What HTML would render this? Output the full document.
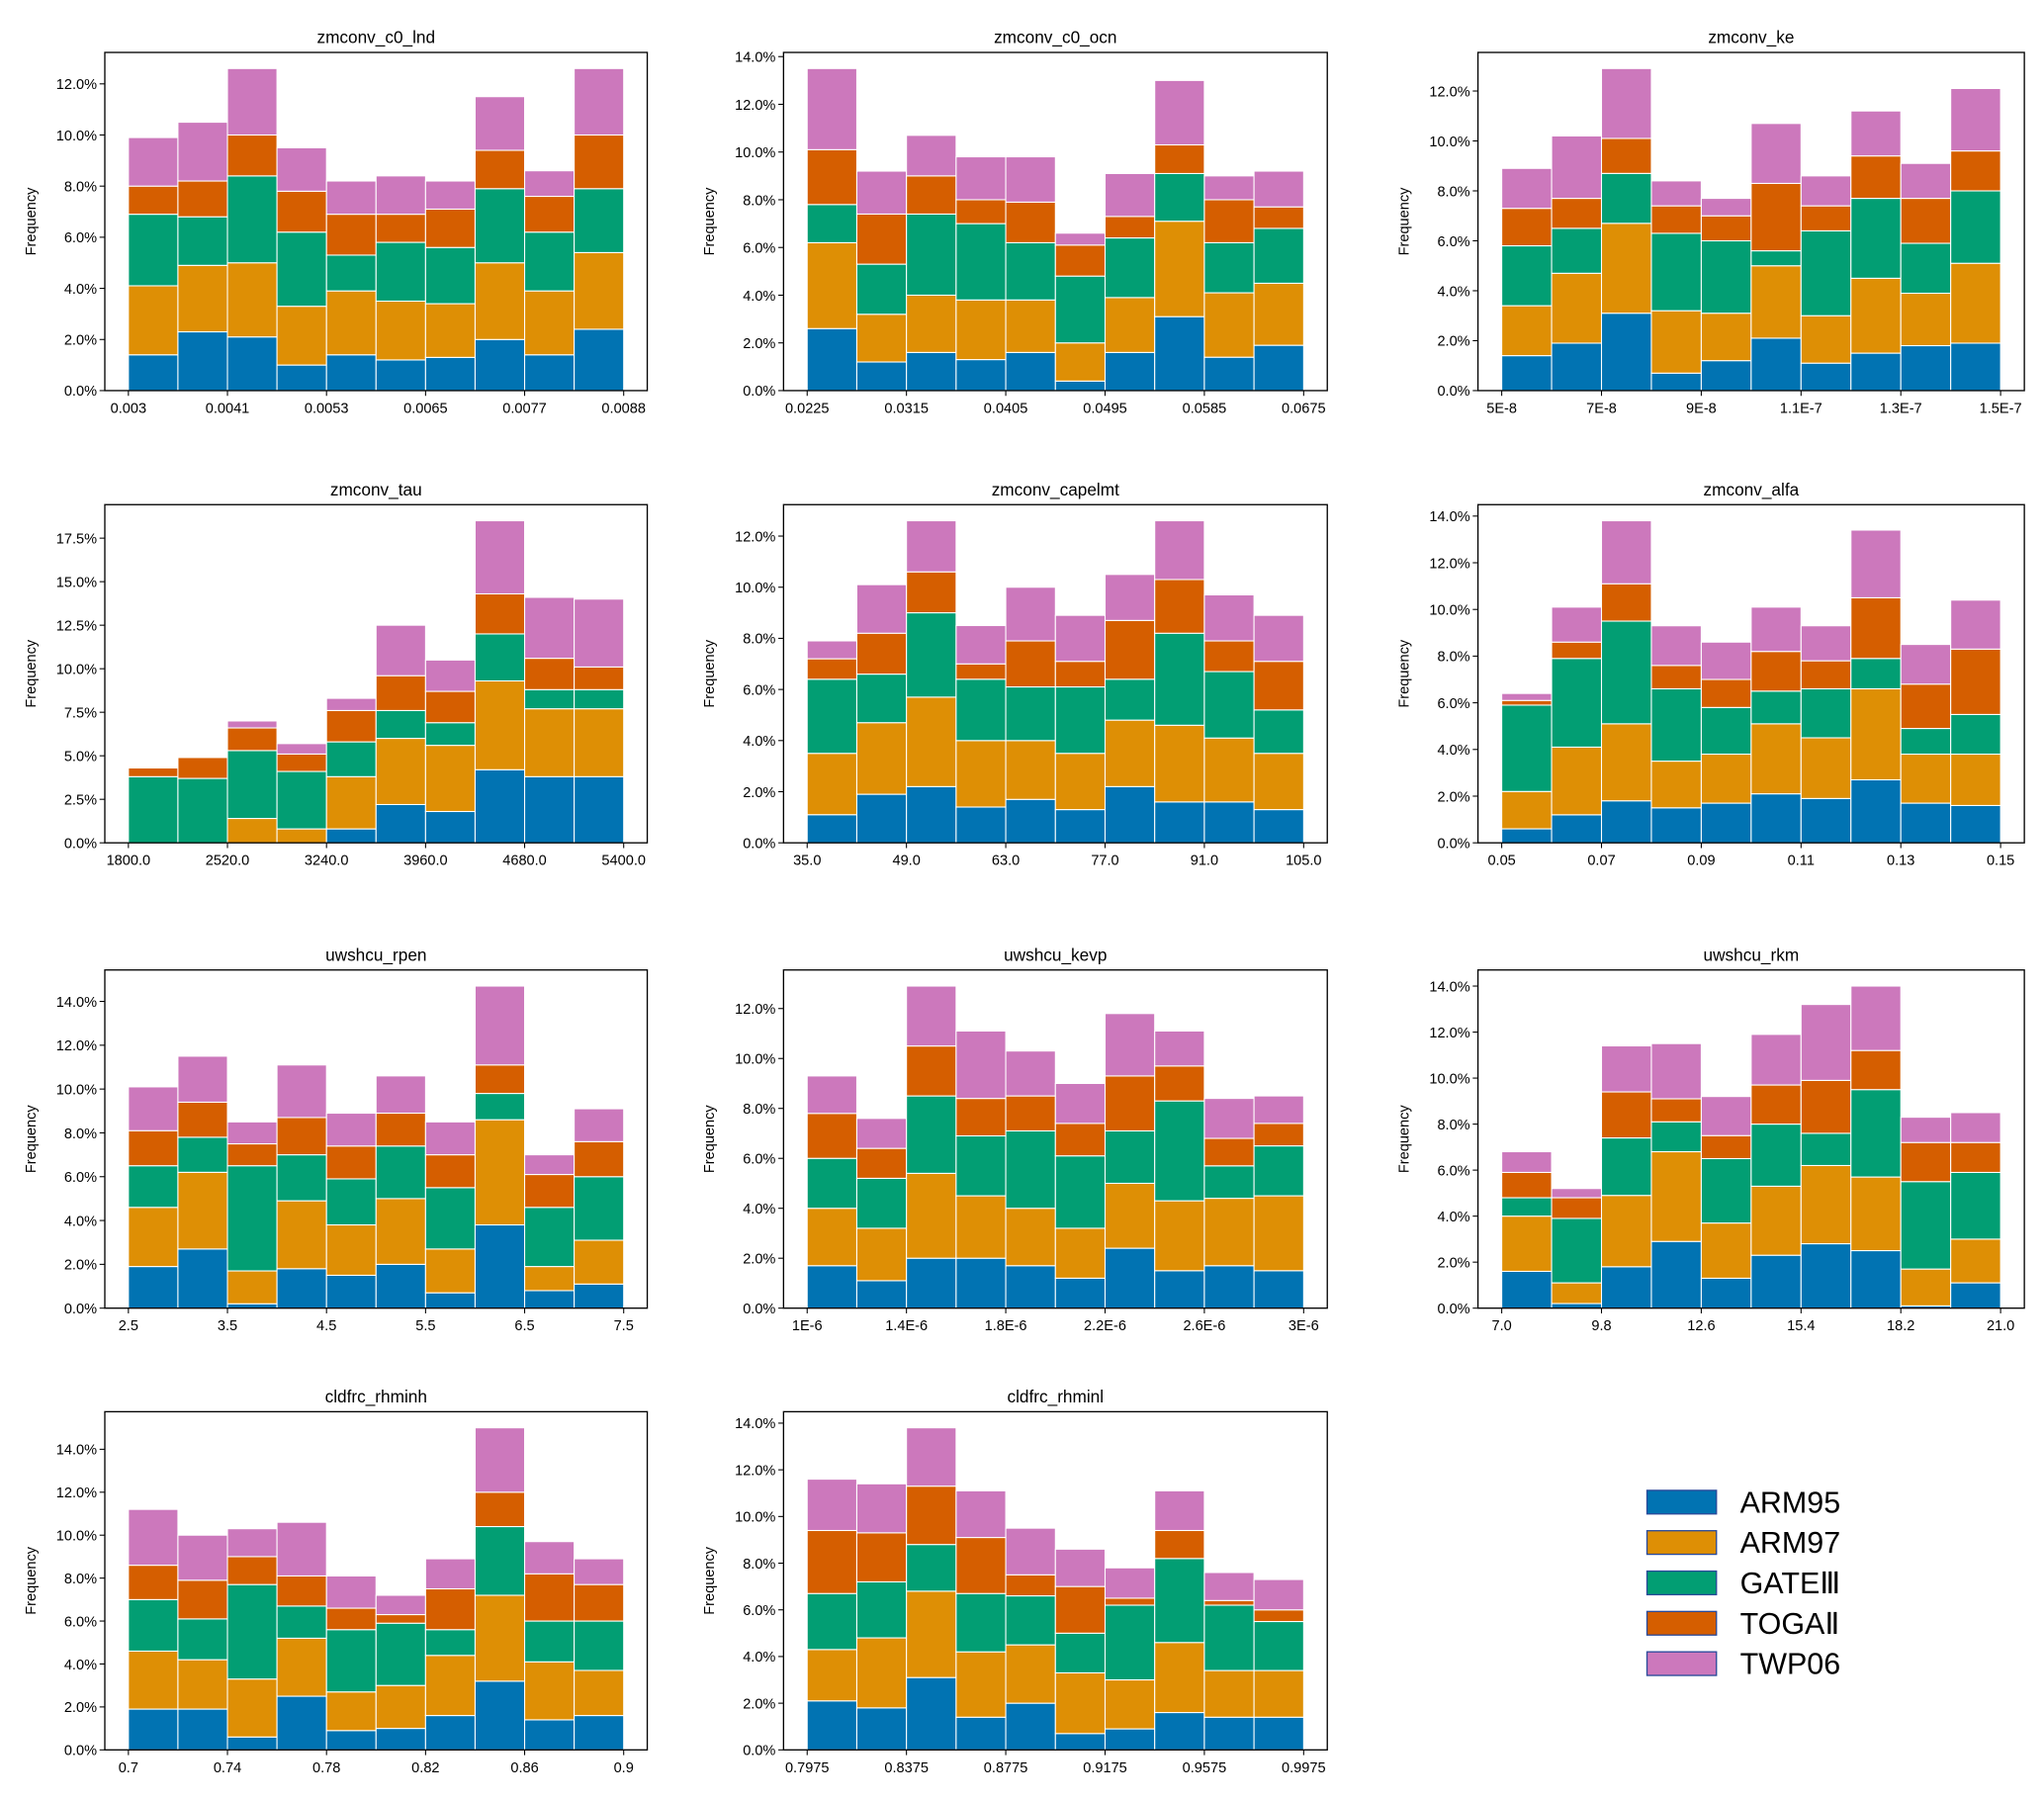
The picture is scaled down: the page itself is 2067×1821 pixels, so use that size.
<!DOCTYPE html>
<html><head><meta charset="utf-8">
<style>
html,body{margin:0;padding:0;background:#fff;}
svg{display:block;font-family:"Liberation Sans","DejaVu Sans",sans-serif;}
</style></head>
<body>
<svg id="fig" width="2067" height="1821" viewBox="0 0 1560 1374" preserveAspectRatio="none" xmlns="http://www.w3.org/2000/svg"></svg>
<script>
const seriesNames = ["ARM95","ARM97","GATEⅢ","TOGAⅡ","TWP06"];
const seriesColors = ["#0173b2","#de8f05","#029e73","#d55e00","#cc78bc"];
const panelTitles = ["zmconv_c0_lnd","zmconv_c0_ocn","zmconv_ke","zmconv_tau","zmconv_capelmt","zmconv_alfa","uwshcu_rpen","uwshcu_kevp","uwshcu_rkm","cldfrc_rhminh","cldfrc_rhminl"];
const xTickLabels = [
 ["0.003","0.0041","0.0053","0.0065","0.0077","0.0088"],
 ["0.0225","0.0315","0.0405","0.0495","0.0585","0.0675"],
 ["5E-8","7E-8","9E-8","1.1E-7","1.3E-7","1.5E-7"],
 ["1800.0","2520.0","3240.0","3960.0","4680.0","5400.0"],
 ["35.0","49.0","63.0","77.0","91.0","105.0"],
 ["0.05","0.07","0.09","0.11","0.13","0.15"],
 ["2.5","3.5","4.5","5.5","6.5","7.5"],
 ["1E-6","1.4E-6","1.8E-6","2.2E-6","2.6E-6","3E-6"],
 ["7.0","9.8","12.6","15.4","18.2","21.0"],
 ["0.7","0.74","0.78","0.82","0.86","0.9"],
 ["0.7975","0.8375","0.8775","0.9175","0.9575","0.9975"]
];
const yTickSteps = [2,2,2,2.5,2,2,2,2,2,2,2];
// cumulative stack tops (percent) per bin: [ARM95, +ARM97, +GATE, +TOGA, +TWP06]
const stackTops = [
 [[1.4,4.1,6.9,8.0,9.9],[2.3,4.9,6.8,8.2,10.5],[2.1,5.0,8.4,10.0,12.6],[1.0,3.3,6.2,7.8,9.5],[1.4,3.9,5.3,6.9,8.2],[1.2,3.5,5.8,6.9,8.4],[1.3,3.4,5.6,7.1,8.2],[2.0,5.0,7.9,9.4,11.5],[1.4,3.9,6.2,7.6,8.6],[2.4,5.4,7.9,10.0,12.6]],
 [[2.6,6.2,7.8,10.1,13.5],[1.2,3.2,5.3,7.4,9.2],[1.6,4.0,7.4,9.0,10.7],[1.3,3.8,7.0,8.0,9.8],[1.6,3.8,6.2,7.9,9.8],[0.4,2.0,4.8,6.1,6.6],[1.6,3.9,6.4,7.3,9.1],[3.1,7.1,9.1,10.3,13.0],[1.4,4.1,6.2,8.0,9.0],[1.9,4.5,6.8,7.7,9.2]],
 [[1.4,3.4,5.8,7.3,8.9],[1.9,4.7,6.5,7.7,10.2],[3.1,6.7,8.7,10.1,12.9],[0.7,3.2,6.3,7.4,8.4],[1.2,3.1,6.0,7.0,7.7],[2.1,5.0,5.6,8.3,10.7],[1.1,3.0,6.4,7.4,8.6],[1.5,4.5,7.7,9.4,11.2],[1.8,3.9,5.9,7.7,9.1],[1.9,5.1,8.0,9.6,12.1]],
 [[0,0,3.8,4.3,4.3],[0,0,3.7,4.9,4.9],[0,1.4,5.3,6.6,7.0],[0,0.8,4.1,5.1,5.7],[0.8,3.8,5.8,7.6,8.3],[2.2,6.0,7.6,9.6,12.5],[1.8,5.6,6.9,8.7,10.5],[4.2,9.3,12.0,14.3,18.5],[3.8,7.7,8.8,10.6,14.1],[3.8,7.7,8.8,10.1,14.0]],
 [[1.1,3.5,6.4,7.2,7.9],[1.9,4.7,6.6,8.2,10.1],[2.2,5.7,9.0,10.6,12.6],[1.4,4.0,6.4,7.0,8.5],[1.7,4.0,6.1,7.9,10.0],[1.3,3.5,6.1,7.1,8.9],[2.2,4.8,6.4,8.7,10.5],[1.6,4.6,8.2,10.3,12.6],[1.6,4.1,6.7,7.9,9.7],[1.3,3.5,5.2,7.1,8.9]],
 [[0.6,2.2,5.9,6.1,6.4],[1.2,4.1,7.9,8.6,10.1],[1.8,5.1,9.5,11.1,13.8],[1.5,3.5,6.6,7.6,9.3],[1.7,3.8,5.8,7.0,8.6],[2.1,5.1,6.5,8.2,10.1],[1.9,4.5,6.6,7.8,9.3],[2.7,6.6,7.9,10.5,13.4],[1.7,3.8,4.9,6.8,8.5],[1.6,3.8,5.5,8.3,10.4]],
 [[1.9,4.6,6.5,8.1,10.1],[2.7,6.2,7.8,9.4,11.5],[0.2,1.7,6.5,7.5,8.5],[1.8,4.9,7.0,8.7,11.1],[1.5,3.8,5.9,7.4,8.9],[2.0,5.0,7.4,8.9,10.6],[0.7,2.7,5.5,7.0,8.5],[3.8,8.6,9.8,11.1,14.7],[0.8,1.9,4.6,6.1,7.0],[1.1,3.1,6.0,7.6,9.1]],
 [[1.7,4.0,6.0,7.8,9.3],[1.1,3.2,5.2,6.4,7.6],[2.0,5.4,8.5,10.5,12.9],[2.0,4.5,6.9,8.4,11.1],[1.7,4.0,7.1,8.5,10.3],[1.2,3.2,6.1,7.4,9.0],[2.4,5.0,7.1,9.3,11.8],[1.5,4.3,8.3,9.7,11.1],[1.7,4.4,5.7,6.8,8.4],[1.5,4.5,6.5,7.4,8.5]],
 [[1.6,4.0,4.8,5.9,6.8],[0.2,1.1,3.9,4.8,5.2],[1.8,4.9,7.4,9.4,11.4],[2.9,6.8,8.1,9.1,11.5],[1.3,3.7,6.5,7.5,9.2],[2.3,5.3,8.0,9.7,11.9],[2.8,6.2,7.6,9.9,13.2],[2.5,5.7,9.5,11.2,14.0],[0.1,1.7,5.5,7.2,8.3],[1.1,3.0,5.9,7.2,8.5]],
 [[1.9,4.6,7.0,8.6,11.2],[1.9,4.2,6.1,7.9,10.0],[0.6,3.3,7.7,9.0,10.3],[2.5,5.2,6.7,8.1,10.6],[0.9,2.7,5.6,6.6,8.1],[1.0,3.0,5.9,6.3,7.2],[1.6,4.4,5.6,7.5,8.9],[3.2,7.2,10.4,12.0,15.0],[1.4,4.1,6.0,8.2,9.7],[1.6,3.7,6.0,7.7,8.9]],
 [[2.1,4.3,6.7,9.4,11.6],[1.8,4.8,7.2,9.3,11.4],[3.1,6.8,8.8,11.3,13.8],[1.4,4.2,6.7,9.1,11.1],[2.0,4.5,6.6,7.5,9.5],[0.7,3.3,5.0,7.0,8.6],[0.9,3.0,6.2,6.5,7.8],[1.6,4.6,8.2,9.4,11.1],[1.4,3.4,6.2,6.4,7.6],[1.4,3.4,5.5,6.0,7.3]]
];

const NS="http://www.w3.org/2000/svg";
const svg=document.getElementById('fig');
function mk(tag,attrs,parent){const e=document.createElementNS(NS,tag);for(const k in attrs)e.setAttribute(k,attrs[k]);(parent||svg).appendChild(e);return e;}
const colL=[80,598,1128], colR=[494,1013,1545];
const rowT=[40,385,740,1077], rowB=[298,643,998,1335];
panelTitles.forEach((title,p)=>{
  const c=p%3, r=Math.floor(p/3);
  const L=colL[c],R=colR[c],T=rowT[r],B=rowB[r];
  const g=mk('g',{});
  
  
  const bins=stackTops[p];
  const maxV=Math.max(...bins.map(b=>b[4]));
  const ymax=maxV*1.05;
  const y=v=>B-(v/ymax)*(B-T);
  const nb=bins.length, W=R-L, bw=W/(nb+0.952);
  const x0=L+bw*0.476;
  const x=i=>x0+i*bw;
  bins.forEach((b,i)=>{
    let prev=0;
    b.forEach((top,s)=>{
      if(top-prev>0.0001){
        const rc=mk('rect',{x:x(i),y:y(top),width:bw,height:y(prev)-y(top),fill:seriesColors[s],stroke:'#fff','stroke-width':0.8},g);
        
        
      }
      prev=Math.max(prev,top);
    });
  });
  const fr=mk('rect',{x:L,y:T,width:W,height:B-T,fill:'none',stroke:'#000','stroke-width':1},g);
  
  
  const step=yTickSteps[p];
  for(let v=0;v<=ymax+1e-9;v+=step){
    const yy=y(v);
    mk('line',{x1:L-4,x2:L,y1:yy,y2:yy,stroke:'#000','stroke-width':0.8},g);
    const t=mk('text',{x:L-6,y:yy+4,'font-size':11,'text-anchor':'end',fill:'#000'},g);
    t.textContent=v.toFixed(1)+'%';
    
    
  }
  xTickLabels[p].forEach((lab,k)=>{
    const xx=x(k*2);
    mk('line',{x1:xx,x2:xx,y1:B,y2:B+4,stroke:'#000','stroke-width':0.8},g);
    const t=mk('text',{x:xx,y:B+17,'font-size':11,'text-anchor':'middle',fill:'#000'},g);
    t.textContent=lab;
    
    
  });
  const tt=mk('text',{x:(L+R)/2,y:T-7,'font-size':13,'text-anchor':'middle',fill:'#000'},g);
  tt.textContent=title;
  
  
  const yl=mk('text',{x:0,y:0,'font-size':11,'text-anchor':'middle',fill:'#000',transform:`translate(${L-53},${(T+B)/2}) rotate(-90)`},g);
  yl.textContent='Frequency';
  
  
});
const lg=mk('g',{});


seriesNames.forEach((n,i)=>{
  const cy=1146+i*30.8;
  const r=mk('rect',{x:1257,y:cy-9,width:53,height:18,fill:seriesColors[i],stroke:'#2a4a9a','stroke-width':1},lg);
  
  
  const t=mk('text',{x:1328,y:cy+8,'font-size':23,fill:'#000'},lg);
  t.textContent=n;
  
  
});
</script>
</body></html>
